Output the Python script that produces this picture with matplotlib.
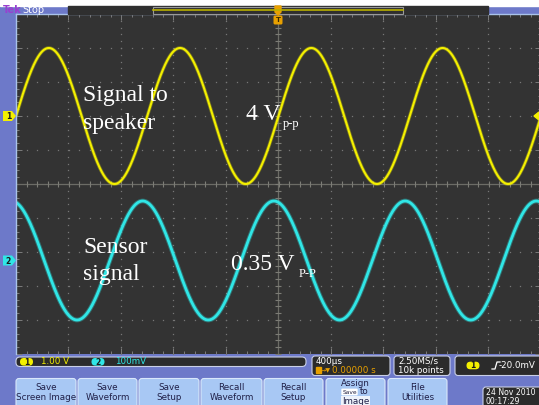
import numpy as np
import matplotlib.pyplot as plt
from matplotlib.patches import Rectangle, FancyBboxPatch, Polygon

W, H = 539, 405

# scope settings and the two captured channels
time_per_div_ms = 0.4
n_hdiv, n_vdiv = 10, 10
channels = ["1", "2"]
volts_per_div = [1.0, 0.1]
vpp = [4.0, 0.35]
offset_div = [2.0, -2.25]
freq_khz = [1.0, 1.0]
peak_time_ms = [0.25, -0.035]
trace_colors = ["#f4f000", "#30e6e6"]

# status readouts
scale_text = ["1.00 V", "100mV"]
timebase_text = ["400\u00b5s", "0.00000 s"]
acq_text = ["2.50MS/s", "10k points"]
trig_text = "-20.0mV"
date_text = ["24 Nov 2010", "00:17:29"]
buttons = [["Save", "Screen Image"], ["Save", "Waveform"], ["Save", "Setup"],
           ["Recall", "Waveform"], ["Recall", "Setup"], ["Assign", "Save to", "Image"],
           ["File", "Utilities"]]
button_x = [(16, 76), (78, 137), (139, 199), (201, 262), (264, 323), (326, 385), (388, 447)]

frame_blue = "#6d79c9"
screen_bg = "#333333"
ui_font = "DejaVu Sans"

fig = plt.figure(figsize=(W / 100, H / 100), dpi=100)
fig.patch.set_facecolor(frame_blue)

# ---- graticule / waveform area
ax = fig.add_axes([16 / W, (H - 354) / H, 525 / W, 340 / H], zorder=1)
ax.set_facecolor(screen_bg)
half_t = n_hdiv / 2 * time_per_div_ms
ax.set_xlim(-half_t, half_t)
ax.set_ylim(-n_vdiv / 2, n_vdiv / 2)
for s in ["bottom", "right"]:
    ax.spines[s].set_visible(False)
for s in ["top", "left"]:
    ax.spines[s].set_color("#a9c3ea")
    ax.spines[s].set_linewidth(1.0)
ax.set_xticks(np.arange(-half_t, half_t + 1e-9, time_per_div_ms))
ax.set_xticks(np.arange(-half_t, half_t + 1e-9, time_per_div_ms / 5), minor=True)
ax.set_yticks(np.arange(-5, 5.01, 1))
ax.set_yticks(np.arange(-5, 5.01, 0.2), minor=True)
ax.tick_params(which="both", direction="in", top=True, right=True, bottom=True, left=True,
               labelbottom=False, labelleft=False, color="#7c7c7c", width=0.7)
ax.tick_params(which="major", length=4)
ax.tick_params(which="minor", length=2)

dot = dict(ls="none", marker="s", ms=0.9, color="#777777", mew=0)
ydots = np.arange(-5, 5.01, 0.2)
xdots = np.arange(-half_t, half_t + 1e-9, time_per_div_ms / 5)
for i in range(1, n_hdiv):
    if i == n_hdiv // 2:
        continue
    xv = -half_t + i * time_per_div_ms
    ax.plot(np.full_like(ydots, xv), ydots, **dot)
for j in range(1, n_vdiv):
    if j == n_vdiv // 2:
        continue
    ax.plot(xdots, np.full_like(xdots, -5 + j), **dot)

ax.axhline(0, color="#6c6c66", lw=0.9)
ax.axvline(0, color="#6c6c66", lw=0.9)
ax.plot(xdots, np.zeros_like(xdots), ls="none", marker="|", ms=4, color="#7c7c76", mew=0.8)
ax.plot(np.zeros_like(ydots), ydots, ls="none", marker="_", ms=4, color="#7c7c76", mew=0.8)

t = np.linspace(-half_t, half_t, 3000)
for k in range(len(channels)):
    amp_div = vpp[k] / 2 / volts_per_div[k]
    y = offset_div[k] + amp_div * np.cos(2 * np.pi * freq_khz[k] * (t - peak_time_ms[k]))
    ax.plot(t, y, color=trace_colors[k], lw=3.4 if k else 2.6, alpha=0.35, solid_capstyle="butt")
    ax.plot(t, y, color=trace_colors[k], lw=2.0 if k else 1.5)

# ---- overlay in pixel coordinates for the instrument frame
ui = fig.add_axes([0, 0, 1, 1], zorder=2)
ui.set_xlim(0, W)
ui.set_ylim(H, 0)
ui.axis("off")
ui.patch.set_visible(False)

# top bar
ui.add_patch(Rectangle((0, 0), W, 6, color="white"))
ui.add_patch(Rectangle((68, 6), 420, 8, color="#2f2f2f"))
ui.add_patch(Rectangle((153, 6.5), 250, 7, fc="none", ec="#9a9a9a", lw=0.8))
ui.plot([153, 403], [10, 10], color="#b9b000", lw=1.2)
ui.text(3, 10.3, "Tek", color="#9a3fd0", fontsize=7, fontweight="bold", va="center", family=ui_font)
ui.text(22, 10.3, "Stop", color="white", fontsize=7, va="center", family=ui_font)
ui.add_patch(Polygon([(275, 6), (281, 6), (281, 12), (278, 15), (275, 12)], color="#e8a000"))
ui.add_patch(FancyBboxPatch((274, 16), 8, 8, boxstyle="round,pad=0.5,rounding_size=1.5",
                            fc="#e8a000", ec="none"))
ui.text(278, 20.5, "T", color="#3a2a00", fontsize=5, ha="center", va="center",
        fontweight="bold", family=ui_font)

# channel ground markers on the left edge
for k in range(len(channels)):
    yc = 184 - offset_div[k] * 34
    ui.add_patch(Polygon([(3, yc - 5), (12, yc - 5), (16, yc), (12, yc + 5), (3, yc + 5)],
                         fc=trace_colors[k], ec="none"))
    ui.text(8.5, yc + 0.5, channels[k], color="#1a1a1a", fontsize=5.5, ha="center", va="center",
            fontweight="bold", family=ui_font)
# trigger level marker on the right edge
ui.add_patch(Polygon([(539, 112), (534, 116), (539, 120)], color=trace_colors[0]))

# annotations
serif = "Liberation Serif"
ui.text(83, 101, "Signal to", color="white", fontsize=17, family=serif)
ui.text(83, 129, "speaker", color="white", fontsize=17, family=serif)
ui.text(246, 120, "4 V", color="white", fontsize=17, family=serif)
ui.text(283, 127, "p-p", color="white", fontsize=9, family=serif)
ui.text(83, 253, "Sensor", color="white", fontsize=17, family=serif)
ui.text(83, 280, "signal", color="white", fontsize=17, family=serif)
ui.text(231, 270, "0.35 V", color="white", fontsize=17, family=serif)
ui.text(299, 277, "P-P", color="white", fontsize=9, family=serif)


def box(x0, y0, x1, y1, fc="#2b2b2b", ec="#c9cfe6", r=3):
    ui.add_patch(FancyBboxPatch((x0, y0), x1 - x0, y1 - y0,
                                boxstyle=f"round,pad=0,rounding_size={r}",
                                fc=fc, ec=ec, lw=0.8))


def badge(xc, yc, label, color):
    ui.add_patch(FancyBboxPatch((xc - 6.5, yc - 3.8), 13, 7.6,
                                boxstyle="round,pad=0,rounding_size=3.8", fc=color, ec="none"))
    ui.text(xc, yc + 0.3, label, color="#1a1a1a", fontsize=5.5, ha="center", va="center",
            fontweight="bold", family=ui_font)


uifs = 6.3
# vertical scale readout
box(16, 357, 306, 366.5, r=4)
badge(26.5, 361.8, channels[0], trace_colors[0])
ui.text(41, 362, scale_text[0], color=trace_colors[0], fontsize=uifs, va="center", family=ui_font)
badge(98, 361.8, channels[1], trace_colors[1])
ui.text(115, 362, scale_text[1], color=trace_colors[1], fontsize=uifs, va="center", family=ui_font)

# timebase readout
box(312, 356, 390, 375.5)
ui.text(316, 361, timebase_text[0], color="white", fontsize=uifs, va="center", family=ui_font)
ui.add_patch(Rectangle((315.5, 367), 5, 6, color="#e8a000"))
ui.text(321, 370.5, "\u2192\u25bc", color="#e8a000", fontsize=4.5, va="center", family=ui_font)
ui.text(332, 370.5, timebase_text[1], color="#e8a000", fontsize=uifs, va="center", family=ui_font)

# acquisition readout
box(394, 356, 450, 375.5)
ui.text(398, 361, acq_text[0], color="white", fontsize=uifs, va="center", family=ui_font)
ui.text(398, 370.5, acq_text[1], color="white", fontsize=uifs, va="center", family=ui_font)

# trigger readout
box(455, 356, 548, 375.5)
badge(473, 365.5, channels[0], trace_colors[0])
ui.plot([492, 495, 497, 500], [369, 369, 362, 362], color="white", lw=0.9)
ui.text(499, 365.8, trig_text, color="white", fontsize=uifs, va="center", family=ui_font)

# soft keys
for (x0, x1), lines in zip(button_x, buttons):
    box(x0, 378.5, x1, 412, fc="#a8c8f4", ec="#d9e7fb", r=3)
    xc = (x0 + x1) / 2
    if len(lines) == 2:
        ys = [388, 397]
    else:
        ys = [383, 392, 401]
    for yy, s in zip(ys, lines):
        if s == "Save to":
            ui.text(xc - 6, yy, "Save", color="#202040", fontsize=4.2, ha="center", va="center",
                    family=ui_font, bbox=dict(boxstyle="round,pad=0.15", fc="white", ec="none"))
            ui.text(xc + 9, yy, "to", color="#202048", fontsize=uifs, ha="center", va="center",
                    family=ui_font)
        elif s == "Image" and len(lines) == 3:
            ui.text(xc, yy, s, color="#202048", fontsize=uifs, ha="center", va="center",
                    family=ui_font, bbox=dict(boxstyle="square,pad=0.1", fc="#eef3fb", ec="none"))
        else:
            ui.text(xc, yy, s, color="#202048", fontsize=uifs, ha="center", va="center",
                    family=ui_font)

# date / time
box(483, 387, 548, 412)
ui.text(486, 392.5, date_text[0], color="white", fontsize=5.6, va="center", family=ui_font)
ui.text(486, 401, date_text[1], color="white", fontsize=5.6, va="center", family=ui_font)

fig.savefig("out.png", dpi=100, facecolor=fig.get_facecolor())
